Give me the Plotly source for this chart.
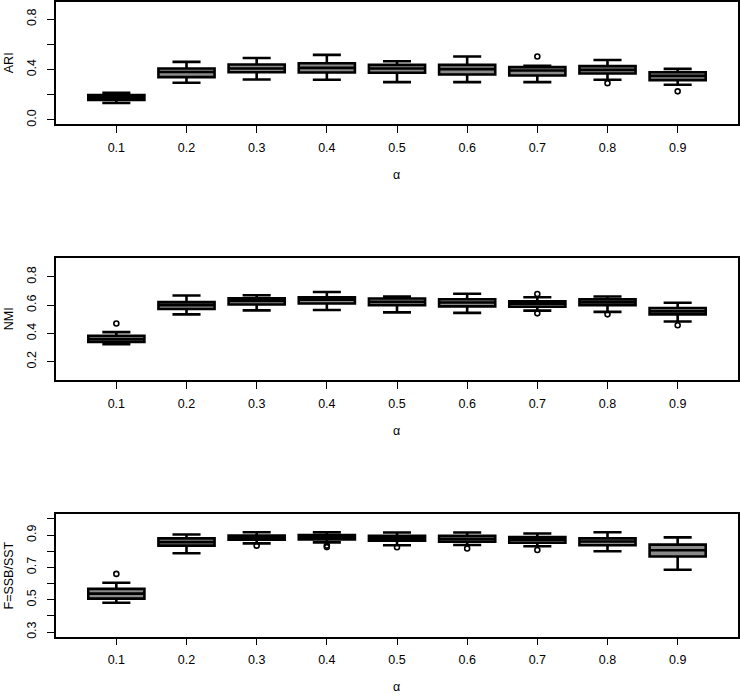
import plotly.graph_objects as go

alpha_labels = ["0.1", "0.2", "0.3", "0.4", "0.5", "0.6", "0.7", "0.8", "0.9"]
positions = [1, 2, 3, 4, 5, 6, 7, 8, 9]

# ARI
ari_low = [0.134, 0.295, 0.321, 0.319, 0.300, 0.300, 0.300, 0.319, 0.279]
ari_q1 = [0.158, 0.340, 0.379, 0.377, 0.374, 0.361, 0.353, 0.369, 0.316]
ari_med = [0.178, 0.380, 0.408, 0.413, 0.408, 0.403, 0.392, 0.397, 0.350]
ari_q3 = [0.197, 0.408, 0.440, 0.450, 0.437, 0.437, 0.419, 0.427, 0.379]
ari_high = [0.216, 0.461, 0.492, 0.516, 0.466, 0.503, 0.429, 0.476, 0.405]
ari_out_x = [7, 8, 9]
ari_out_y = [0.503, 0.292, 0.227]

# NMI
nmi_low = [0.324, 0.535, 0.563, 0.566, 0.549, 0.545, 0.561, 0.552, 0.484]
nmi_q1 = [0.340, 0.573, 0.605, 0.612, 0.600, 0.591, 0.589, 0.600, 0.535]
nmi_med = [0.360, 0.600, 0.630, 0.638, 0.624, 0.619, 0.610, 0.621, 0.556]
nmi_q3 = [0.384, 0.621, 0.649, 0.656, 0.647, 0.642, 0.628, 0.642, 0.580]
nmi_high = [0.409, 0.668, 0.670, 0.693, 0.661, 0.681, 0.656, 0.661, 0.617]
nmi_out_x = [1, 7, 7, 8, 9]
nmi_out_y = [0.470, 0.679, 0.542, 0.535, 0.458]

# F = SSB/SST
f_low = [0.481, 0.788, 0.849, 0.855, 0.837, 0.839, 0.831, 0.800, 0.686]
f_q1 = [0.507, 0.835, 0.872, 0.874, 0.866, 0.860, 0.853, 0.837, 0.768]
f_med = [0.538, 0.857, 0.886, 0.888, 0.881, 0.878, 0.872, 0.861, 0.806]
f_q3 = [0.567, 0.880, 0.898, 0.900, 0.896, 0.896, 0.888, 0.880, 0.841]
f_high = [0.605, 0.904, 0.918, 0.918, 0.916, 0.916, 0.910, 0.918, 0.886]
f_out_x = [1, 3, 4, 4, 5, 6, 7]
f_out_y = [0.660, 0.835, 0.835, 0.826, 0.825, 0.817, 0.808]

panels = [
    dict(low=ari_low, q1=ari_q1, med=ari_med, q3=ari_q3, high=ari_high,
         ox=ari_out_x, oy=ari_out_y, title="ARI",
         tickvals=[0.0, 0.2, 0.4, 0.6, 0.8], ticktext=["0.0", "", "0.4", "", "0.8"],
         yrange=[-0.036, 0.936], top=1, bottom=124),
    dict(low=nmi_low, q1=nmi_q1, med=nmi_med, q3=nmi_q3, high=nmi_high,
         ox=nmi_out_x, oy=nmi_out_y, title="NMI",
         tickvals=[0.2, 0.4, 0.6, 0.8], ticktext=["0.2", "0.4", "0.6", "0.8"],
         yrange=[0.068, 0.932], top=258.3, bottom=381),
    dict(low=f_low, q1=f_q1, med=f_med, q3=f_q3, high=f_high,
         ox=f_out_x, oy=f_out_y, title="F=SSB/SST",
         tickvals=[0.3, 0.4, 0.5, 0.6, 0.7, 0.8, 0.9, 1.0],
         ticktext=["0.3", "", "0.5", "", "0.7", "", "0.9", ""],
         yrange=[0.272, 1.028], top=515.7, bottom=638.3),
]

W, H = 740, 695
x_left, x_right = 56, 738
FONT = "Liberation Sans, Arial, Helvetica, sans-serif"
FS = 12.5

fig = go.Figure()
annotations = []
for i, p in enumerate(panels):
    n = i + 1
    xa = "x" if n == 1 else f"x{n}"
    ya = "y" if n == 1 else f"y{n}"
    fig.add_trace(go.Box(
        x=positions, q1=p["q1"], median=p["med"], q3=p["q3"],
        lowerfence=p["low"], upperfence=p["high"],
        width=0.8, whiskerwidth=0.5, boxpoints=False,
        fillcolor="#8a8a8a", line=dict(color="black", width=2.6),
        xaxis=xa, yaxis=ya, showlegend=False, hoverinfo="skip"))
    fig.add_trace(go.Scatter(
        x=p["ox"], y=p["oy"], mode="markers",
        marker=dict(symbol="circle-open", size=5, color="black", line=dict(width=1.6, color="black")),
        xaxis=xa, yaxis=ya, showlegend=False, hoverinfo="skip"))
    dom = [1 - p["bottom"] / H, 1 - p["top"] / H]
    axis_common = dict(showline=True, mirror=True, linecolor="black", linewidth=1.5,
                       ticks="outside", ticklen=7, tickwidth=1.2, tickcolor="black",
                       showgrid=False, zeroline=False,
                       tickfont=dict(family=FONT, size=FS, color="black"))
    fig.update_layout(**{
        ("xaxis" if n == 1 else f"xaxis{n}"): dict(
            domain=[x_left / W, x_right / W], range=[0.14, 9.86],
            tickvals=positions, ticktext=alpha_labels, ticklabelstandoff=4,
            anchor=ya, **axis_common),
        ("yaxis" if n == 1 else f"yaxis{n}"): dict(
            domain=dom, range=p["yrange"], tickvals=p["tickvals"], ticktext=p["ticktext"],
            tickangle=-90, anchor=xa, ticklabelstandoff=6, **axis_common),
    })
    annotations.append(dict(
        text="α", xref="paper", yref="paper", x=(x_left + x_right) / 2 / W,
        y=1 - (p["bottom"] + 51) / H, showarrow=False, xanchor="center", yanchor="middle",
        font=dict(family=FONT, size=FS, color="black")))
    annotations.append(dict(
        text=p["title"], xref="paper", yref="paper", x=0,
        y=1 - (p["top"] + p["bottom"]) / 2 / H, showarrow=False, textangle=-90,
        xanchor="left", yanchor="middle",
        font=dict(family=FONT, size=FS, color="black")))

fig.update_layout(width=W, height=H, margin=dict(l=0, r=0, t=0, b=0),
                  paper_bgcolor="white", plot_bgcolor="white",
                  annotations=annotations, font=dict(family=FONT))
fig.write_html("out.html")
